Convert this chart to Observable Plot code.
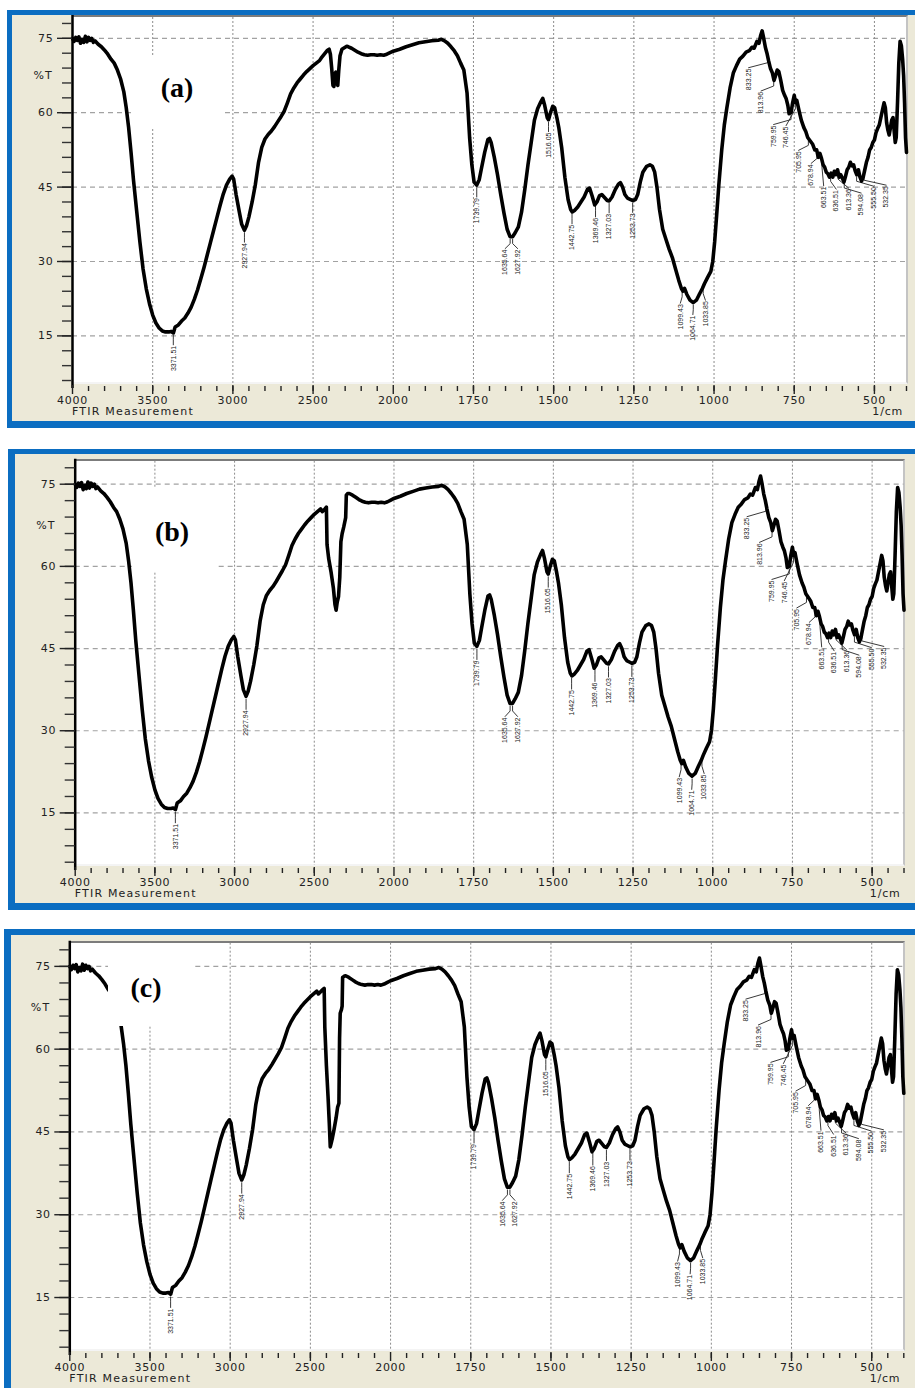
<!DOCTYPE html>
<html>
<head>
<meta charset="utf-8">
<script src="https://cdn.jsdelivr.net/npm/d3@7"></script>
<script src="https://cdn.jsdelivr.net/npm/@observablehq/plot@0.6"></script>
<style>
  html, body { margin: 0; padding: 0; background: #ffffff; }
  body { width: 915px; height: 1388px; position: relative; overflow: hidden; font-family: "DejaVu Sans", sans-serif; }
  .panel { position: absolute; background: #ECE9D8; box-sizing: border-box; border-style: solid; border-color: #0b6dc1; z-index: 0; }
  .plotarea { position: absolute; background: #ffffff; box-sizing: border-box; border-top: 2px solid #7c7c7c; border-right: 2px solid #c4c4c4; border-bottom: 2px solid #f4f4f4; z-index: 1; }
  .chart { position: absolute; left: 0; z-index: 2; }
  .chart svg { overflow: visible; }
  .chart [aria-label="x-axis tick label"] text, .chart [aria-label="y-axis tick label"] text { letter-spacing: 0.7px; }
  .box { position: absolute; background: #ffffff; z-index: 3; }
  .plab { position: absolute; z-index: 4; font-family: "Liberation Serif", "Times New Roman", serif; font-weight: bold; font-size: 28px; line-height: 1; transform: translate(-50%, -50%); color: #000; white-space: nowrap; }
  .ax { position: absolute; z-index: 4; font-family: "DejaVu Sans", sans-serif; font-size: 11px; line-height: 1; color: #222; letter-spacing: 1.2px; white-space: nowrap; }
</style>
</head>
<body>
<script>
// ---------------- DATA ----------------
// Spectrum, common part from 4000 down to 2460 cm-1 (%T)
const highWn = [4000,3990,3980,3970,3960,3950,3940,3930,3920,3910,3900,3890,3880,3870,3860,3840,3820,3800,3780,3760,3740,3720,3700,3680,3665,3650,3635,3620,3600,3580,3560,3540,3520,3500,3480,3460,3440,3420,3400,3385,3371,3360,3340,3320,3300,3280,3260,3240,3220,3200,3180,3160,3140,3120,3100,3080,3060,3040,3020,3005,2995,2980,2960,2945,2928,2915,2900,2880,2860,2840,2820,2800,2780,2760,2740,2720,2700,2680,2660,2640,2620,2600,2580,2560,2540,2520,2500,2480,2460];
const highT  = [75.0,74.4,75.2,74.6,75.3,74.0,74.8,74.2,75.4,74.3,75.2,74.6,75.0,74.2,74.5,73.8,73.3,72.6,71.8,70.8,70.0,68.6,66.8,64.2,61.0,57.0,52.0,46.5,40.2,34.0,28.5,24.5,21.5,19.2,17.6,16.6,16.0,15.8,15.8,15.9,15.6,16.8,17.2,18.0,18.6,19.6,20.8,22.4,24.3,26.5,28.8,31.3,33.8,36.3,38.8,41.3,43.6,45.4,46.6,47.2,46.6,43.5,40.0,37.5,36.3,37.2,39.0,42.0,45.5,50.0,53.0,54.7,55.6,56.3,57.2,58.2,59.2,60.3,62.0,63.8,65.0,66.0,66.8,67.6,68.3,68.9,69.5,70.0,70.5];

// CO2 region (2450 - 2290 cm-1), different in each sample
const co2WnA = [2450,2430,2410,2400,2392,2384,2376,2370,2364,2358,2352,2346,2340,2332,2320,2300,2290];
const co2TA  = [71.0,71.8,72.6,72.8,71.8,69.0,65.5,65.3,67.8,68.2,66.0,65.5,68.5,71.5,72.8,73.2,73.4];
const co2WnB = [2450,2435,2424,2420,2410,2395,2380,2370,2363,2356,2348,2340,2333,2325,2315,2303,2299,2290];
const co2TB  = [70.0,70.4,70.8,64.0,61.5,59.0,56.0,53.0,52.0,53.5,54.5,58.0,64.5,66.0,67.2,68.9,73.0,73.3];
const co2WnC = [2450,2430,2414,2410,2400,2390,2382,2376,2370,2362,2352,2340,2330,2322,2318,2314,2306,2302,2299,2290];
const co2TC  = [70.0,70.6,71.0,64.0,57.0,51.5,46.5,42.3,43.0,44.0,45.5,47.5,49.5,50.2,62.0,66.5,67.2,67.8,73.0,73.2];

// Spectrum, common part from 2280 down to 400 cm-1 (%T)
const lowWn = [2280,2260,2240,2220,2200,2180,2160,2140,2120,2100,2080,2060,2040,2020,2000,1980,1960,1940,1920,1900,1880,1860,1850,1840,1830,1820,1810,1800,1790,1780,1770,1762,1755,1748,1740,1732,1725,1715,1705,1700,1695,1685,1675,1665,1655,1645,1636,1628,1620,1610,1600,1590,1580,1570,1560,1550,1540,1534,1528,1520,1516,1510,1503,1497,1490,1484,1475,1465,1455,1447,1442,1435,1425,1415,1405,1395,1388,1380,1372,1365,1357,1350,1340,1333,1327,1318,1308,1298,1292,1285,1278,1270,1260,1253,1245,1238,1230,1222,1210,1200,1192,1185,1178,1170,1160,1150,1140,1130,1120,1110,1102,1097,1092,1085,1075,1065,1055,1045,1036,1030,1020,1010,1004,998,992,985,976,968,960,950,940,930,920,910,900,890,882,875,866,860,855,850,846,840,835,830,824,818,813,808,803,798,792,786,780,775,770,766,760,755,750,746,742,735,728,720,714,708,700,693,686,680,675,670,665,660,655,650,645,640,635,630,625,620,615,610,605,600,595,590,585,580,575,570,565,560,555,550,545,540,535,530,525,520,515,510,505,500,495,490,485,480,475,470,466,462,458,454,450,446,442,438,435,432,428,424,420,416,412,409,406,403,400];
const lowT  = [73.3,73.0,72.6,72.2,71.9,71.7,71.6,71.7,71.7,71.6,71.7,71.6,71.8,72.1,72.4,72.8,73.3,73.7,74.1,74.3,74.5,74.6,74.8,74.5,74.0,73.3,72.5,71.5,70.0,68.6,64.0,55.0,49.5,46.0,45.4,46.5,48.8,52.0,54.6,54.8,54.0,51.0,47.5,43.5,39.8,36.5,35.0,35.0,35.8,37.0,40.0,44.5,49.5,54.0,58.5,60.8,62.2,62.9,61.5,59.0,58.6,60.0,61.3,61.0,59.0,57.0,53.0,47.0,42.5,40.5,40.0,40.3,41.0,42.0,43.0,44.5,44.8,43.2,41.4,42.0,43.3,43.5,42.8,42.3,42.2,43.0,44.5,45.6,45.9,45.0,43.5,42.8,42.5,42.3,42.5,43.5,46.0,48.0,49.2,49.5,49.2,48.0,45.0,40.5,36.5,34.5,32.5,30.8,28.5,26.2,24.6,24.0,24.6,23.4,22.2,21.7,22.2,23.5,24.6,25.5,26.8,28.0,30.0,34.0,39.2,45.5,52.5,57.5,61.0,65.0,68.0,69.5,70.8,71.4,72.2,72.5,73.2,73.0,74.4,74.0,75.5,76.5,75.3,73.2,72.0,70.5,68.9,68.0,66.5,67.5,68.6,68.3,66.5,64.5,63.5,62.8,61.5,59.8,60.0,62.0,63.5,62.0,62.5,60.4,58.5,57.0,56.2,55.0,54.3,53.7,52.5,52.5,51.0,51.8,50.8,49.5,49.0,48.0,47.7,47.0,47.8,47.0,48.2,47.5,48.5,47.0,47.5,46.8,46.0,47.2,48.5,49.0,50.0,49.3,49.5,48.3,47.5,48.5,47.0,46.2,47.0,48.5,50.0,51.0,52.5,53.0,54.0,54.5,56.0,56.8,57.5,59.0,60.5,62.0,61.0,58.0,56.5,55.5,57.0,58.5,59.0,56.0,54.0,55.0,62.0,70.0,74.4,73.5,70.7,67.5,62.0,55.0,52.0];

// Labelled peaks
const peakLabels = ["3371.51","2927.94","1739.79","1635.64","1627.92","1516.05","1442.75","1369.46","1327.03","1253.73","1099.43","1064.71","1033.85","833.25","813.96","759.95","746.45","705.95","678.94","663.51","636.51","613.36","594.08","555.50","532.35"];

// Axis ticks (cm-1 and %T)
const yMajorTicks = [75, 60, 45, 30, 15];
const yMinorTicks = d3.range(6, 79, 3);
const xMajorTicks = [4000, 3500, 3000, 2500, 2000, 1750, 1500, 1250, 1000, 750, 500];
const xGridTicks  = [3500, 3000, 2500, 2000, 1750, 1500, 1250, 1000, 750, 500];
const xMinorTicks = d3.range(3900, 2000, -100).concat(d3.range(1950, 399, -50));
const wnRange = [4000, 400];
const yDomain = [5.4, 79.2];

// The instrument axis runs at half speed above 2000 cm-1: u() is proportional to the pixel position.
function u(w) { return w > 2000 ? (4000 - w) / 2 : 1000 + (2000 - w); }
function invU(v) { return v < 1000 ? 4000 - 2 * v : 2000 - (v - 1000); }

// ---------------- LAYOUT ----------------
const panels = [
  {label: "(a)", co2Wn: co2WnA, co2T: co2TA, top: 14, plotL: 72, plotR: 906, plotT: 17, plotB: 383,
   frame: {left: 7, top: 9.5, width: 930, height: 418.5, bt: 5, bl: 5, bb: 7},
   box: {left: 135, top: 55, width: 90, height: 73}, lab: {x: 177, y: 88}},
  {label: "(b)", co2Wn: co2WnB, co2T: co2TB, top: 454, plotL: 74.7, plotR: 903.5, plotT: 460.7, plotB: 865,
   frame: {left: 8, top: 449, width: 930, height: 461, bt: 5, bl: 7, bb: 7},
   box: {left: 132, top: 488, width: 85, height: 84}, lab: {x: 172, y: 532}},
  {label: "(c)", co2Wn: co2WnC, co2T: co2TC, top: 935, plotL: 69.3, plotR: 903.3, plotT: 942.7, plotB: 1350,
   frame: {left: 4, top: 929, width: 930, height: 480, bt: 6, bl: 7, bb: 0},
   box: {left: 108, top: 943, width: 87, height: 83}, lab: {x: 146, y: 988}}
];

// helpers
function interpT(wn, t, w) {
  for (let i = 1; i < wn.length; i++) {
    if (wn[i] <= w) {
      const f = (wn[i - 1] - w) / (wn[i - 1] - wn[i]);
      return t[i - 1] + f * (t[i] - t[i - 1]);
    }
  }
  return t[t.length - 1];
}
// lowest %T of the trace in a small window (keeps labels below the curve)
function minNear(wn, t, w, half) {
  let m = Infinity;
  for (let i = 0; i < wn.length; i++) if (Math.abs(u(wn[i]) - u(w)) <= half) m = Math.min(m, t[i]);
  return Math.min(m, interpT(wn, t, w));
}
function dodge(ws, gap) {
  const idx = ws.map((w, i) => i).sort((a, b) => u(ws[a]) - u(ws[b]));
  const pos = idx.map(i => u(ws[i]));
  for (let it = 0; it < 300; it++) {
    for (let k = 1; k < pos.length; k++) {
      const d = pos[k] - pos[k - 1];
      if (d < gap) { const s = (gap - d) / 2; pos[k - 1] -= s; pos[k] += s; }
    }
  }
  const out = new Array(ws.length);
  idx.forEach((i, k) => out[i] = invU(pos[k]));
  return out;
}
function el(tag, cls, style, text) {
  const e = document.createElement(tag);
  if (cls) e.className = cls;
  Object.assign(e.style, style);
  if (text != null) e.textContent = text;
  document.body.appendChild(e);
  return e;
}

const peakWn = peakLabels.map(Number);
const labelWn = dodge(peakWn, 39);

for (const p of panels) {
  const wn = highWn.concat(p.co2Wn, lowWn);
  const t = highT.concat(p.co2T, lowT);
  const spectrum = wn.map((w, i) => ({wn: w, t: t[i]}));

  const peaks = peakWn.map((w, i) => {
    const tp = interpT(wn, t, w);
    const tl = Math.min(tp, minNear(wn, t, labelWn[i], 14));
    return {id: i, wn: w, lw: labelWn[i], t: tp, tl: tl, s: peakLabels[i]};
  });
  const leaders = peaks.flatMap(d => [
    {id: d.id, wn: d.wn, t: d.t - 0.5},
    {id: d.id, wn: d.wn, t: d.t - 1.4},
    {id: d.id, wn: d.lw, t: d.tl - 2.4}
  ]);

  const f = p.frame;
  el("div", "panel", {left: f.left + "px", top: f.top + "px", width: f.width + "px", height: f.height + "px",
    borderTopWidth: f.bt + "px", borderLeftWidth: f.bl + "px", borderBottomWidth: f.bb + "px", borderRightWidth: "0px"});
  el("div", "plotarea", {left: p.plotL + "px", top: (p.plotT - 2) + "px", width: (p.plotR - p.plotL + 2) + "px", height: (p.plotB - p.plotT + 3) + "px"});

  const H = p.plotB + 40 - p.top;
  const chart = Plot.plot({
    width: 915,
    height: H,
    marginLeft: p.plotL,
    marginRight: 915 - p.plotR,
    marginTop: p.plotT - p.top,
    marginBottom: H - (p.plotB - p.top),
    x: {domain: wnRange.map(u)},
    y: {domain: yDomain},
    style: {background: "transparent", color: "#222", fontFamily: "'DejaVu Sans', sans-serif", fontSize: "11px", overflow: "visible"},
    marks: [
      Plot.gridY(yMajorTicks, {stroke: "#a2a2a2", strokeOpacity: 1, strokeWidth: 1.2, strokeDasharray: "5,4"}),
      Plot.gridX(xGridTicks.map(u), {stroke: "#8c8c8c", strokeOpacity: 1, strokeWidth: 1, strokeDasharray: "2,2"}),
      Plot.line(leaders, {x: d => u(d.wn), y: "t", z: "id", stroke: "#222", strokeWidth: 0.9}),
      Plot.text(peaks, {x: d => u(d.lw), y: d => d.tl - 2.6, text: "s", rotate: -90, textAnchor: "end", lineAnchor: "middle",
        fontSize: 7, fontFamily: "'Liberation Sans', Arial, sans-serif", fill: "#222"}),
      Plot.line(spectrum, {x: d => u(d.wn), y: "t", stroke: "#000", strokeWidth: 3.6, strokeLinejoin: "round", strokeLinecap: "round"}),
      Plot.ruleX([u(wnRange[0])], {stroke: "#000", strokeWidth: 2.5, insetBottom: -5, insetTop: -2}),
      Plot.axisY(yMinorTicks, {tickSize: 10, text: null, label: null, stroke: "#333", strokeWidth: 1.4}),
      Plot.axisY(yMajorTicks, {tickSize: 15, tickPadding: 4, tickFormat: d => String(d), label: null, stroke: "#222", strokeWidth: 1.4, fill: "#222", fontSize: 11}),
      Plot.axisX(xMinorTicks.map(u), {tickSize: 5, text: null, label: null, dy: 3, stroke: "#222", strokeWidth: 1.4}),
      Plot.axisX(xMajorTicks.map(u), {tickSize: 9, text: null, label: null, dy: 2, stroke: "#222", strokeWidth: 1.4}),
      Plot.axisX(xMajorTicks.map(u), {tickSize: 0, tickPadding: 13, tickFormat: d => String(invU(d)), label: null, fill: "#222", fontSize: 11})
    ]
  });
  const holder = el("div", "chart", {top: p.top + "px"});
  holder.appendChild(chart);

  el("div", "box", {left: p.box.left + "px", top: p.box.top + "px", width: p.box.width + "px", height: p.box.height + "px"});
  el("div", "plab", {left: p.lab.x + "px", top: p.lab.y + "px"}, p.label);

  const y75 = p.plotT + (yDomain[1] - 75) / (yDomain[1] - yDomain[0]) * (p.plotB - p.plotT);
  const y15 = p.plotT + (yDomain[1] - 15) / (yDomain[1] - yDomain[0]) * (p.plotB - p.plotT);
  el("div", "ax", {right: (915 - p.plotL + 19) + "px", top: (y75 + 0.128 * (y15 - y75) - 6) + "px"}, "%T");
  el("div", "ax", {left: p.plotL + "px", top: (p.plotB + 23) + "px"}, "FTIR Measurement");
  el("div", "ax", {right: (915 - p.plotR + 3) + "px", top: (p.plotB + 23) + "px", letterSpacing: "0.8px"}, "1/cm");
}
</script>
</body>
</html>
